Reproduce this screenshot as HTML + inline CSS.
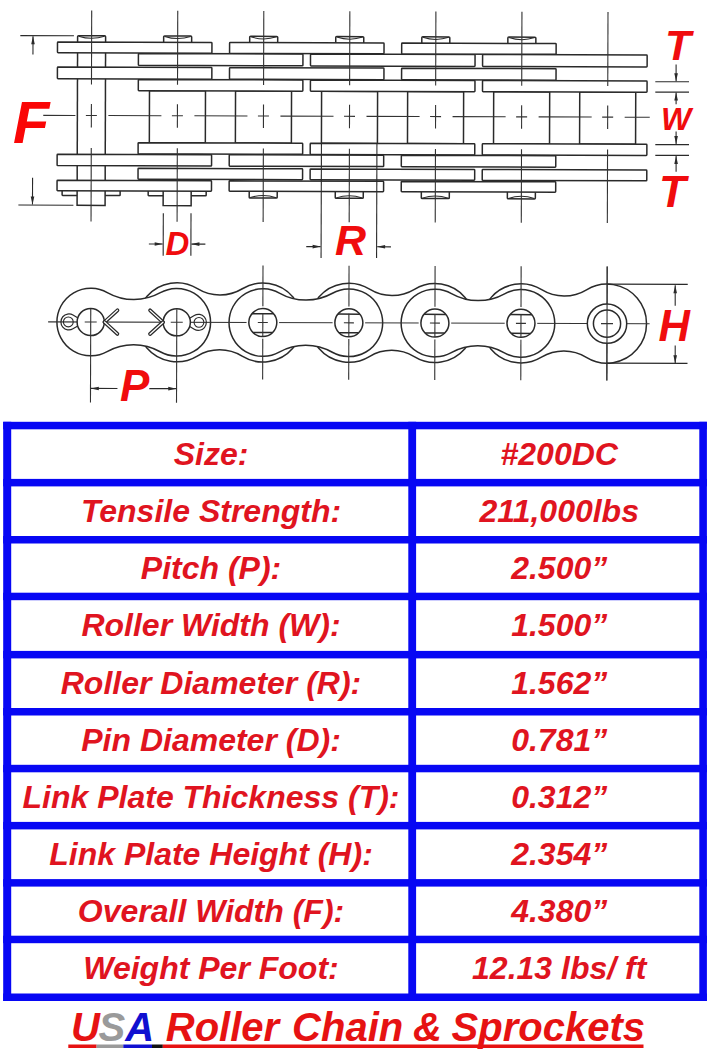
<!DOCTYPE html>
<html><head><meta charset="utf-8"><title>#200DC Roller Chain</title>
<style>
html,body{margin:0;padding:0;background:#fff;}
body{width:708px;height:1058px;overflow:hidden;position:relative;}
svg{display:block;position:absolute;left:0;top:0;}
text{font-family:"Liberation Sans",sans-serif;font-weight:bold;font-style:italic;}
</style></head><body>
<svg width="708" height="1058" viewBox="0 0 708 1058">
<g transform="rotate(0.18 91 200)">
<line x1="77.10" y1="42.00" x2="77.10" y2="195.50" stroke="#2a2a2a" stroke-width="1.5"/>
<line x1="105.10" y1="42.00" x2="105.10" y2="195.50" stroke="#2a2a2a" stroke-width="1.5"/>
<rect x="149.15" y="90.50" width="56.00" height="52.00" rx="0" fill="#fff" stroke="#2a2a2a" stroke-width="1.5"/>
<rect x="235.20" y="90.50" width="56.00" height="52.00" rx="0" fill="#fff" stroke="#2a2a2a" stroke-width="1.5"/>
<rect x="321.25" y="90.50" width="56.00" height="52.00" rx="0" fill="#fff" stroke="#2a2a2a" stroke-width="1.5"/>
<rect x="407.30" y="90.50" width="56.00" height="52.00" rx="0" fill="#fff" stroke="#2a2a2a" stroke-width="1.5"/>
<rect x="493.35" y="90.50" width="56.00" height="52.00" rx="0" fill="#fff" stroke="#2a2a2a" stroke-width="1.5"/>
<rect x="579.40" y="90.50" width="56.00" height="52.00" rx="0" fill="#fff" stroke="#2a2a2a" stroke-width="1.5"/>
<path d="M77.10 42.10 L77.10 36.6 Q77.10 35.8 78.10 35.8 L104.10 35.8 Q105.10 35.8 105.10 36.6 L105.10 42.10" fill="#fff" stroke="#2a2a2a" stroke-width="1.5"/>
<path d="M78.10 36.2 Q91.10 40.5 104.10 36.2" fill="none" stroke="#2a2a2a" stroke-width="1"/>
<path d="M163.15 42.10 L163.15 36.6 Q163.15 35.8 164.15 35.8 L190.15 35.8 Q191.15 35.8 191.15 36.6 L191.15 42.10" fill="#fff" stroke="#2a2a2a" stroke-width="1.5"/>
<path d="M164.15 36.2 Q177.15 40.5 190.15 36.2" fill="none" stroke="#2a2a2a" stroke-width="1"/>
<path d="M249.20 42.10 L249.20 36.6 Q249.20 35.8 250.20 35.8 L276.20 35.8 Q277.20 35.8 277.20 36.6 L277.20 42.10" fill="#fff" stroke="#2a2a2a" stroke-width="1.5"/>
<path d="M250.20 36.2 Q263.20 40.5 276.20 36.2" fill="none" stroke="#2a2a2a" stroke-width="1"/>
<path d="M335.25 42.10 L335.25 36.6 Q335.25 35.8 336.25 35.8 L362.25 35.8 Q363.25 35.8 363.25 36.6 L363.25 42.10" fill="#fff" stroke="#2a2a2a" stroke-width="1.5"/>
<path d="M336.25 36.2 Q349.25 40.5 362.25 36.2" fill="none" stroke="#2a2a2a" stroke-width="1"/>
<path d="M421.30 42.10 L421.30 36.6 Q421.30 35.8 422.30 35.8 L448.30 35.8 Q449.30 35.8 449.30 36.6 L449.30 42.10" fill="#fff" stroke="#2a2a2a" stroke-width="1.5"/>
<path d="M422.30 36.2 Q435.30 40.5 448.30 36.2" fill="none" stroke="#2a2a2a" stroke-width="1"/>
<path d="M507.35 42.10 L507.35 36.6 Q507.35 35.8 508.35 35.8 L534.35 35.8 Q535.35 35.8 535.35 36.6 L535.35 42.10" fill="#fff" stroke="#2a2a2a" stroke-width="1.5"/>
<path d="M508.35 36.2 Q521.35 40.5 534.35 36.2" fill="none" stroke="#2a2a2a" stroke-width="1"/>
<rect x="62.10" y="189.80" width="58.00" height="5.70" rx="0.6" fill="#fff" stroke="#2a2a2a" stroke-width="1.5"/>
<rect x="77.10" y="189.80" width="28.00" height="15.60" rx="0" fill="#fff" stroke="#2a2a2a" stroke-width="1.5"/>
<rect x="148.15" y="189.80" width="58.00" height="5.70" rx="0.6" fill="#fff" stroke="#2a2a2a" stroke-width="1.5"/>
<rect x="163.15" y="189.80" width="28.00" height="15.60" rx="0" fill="#fff" stroke="#2a2a2a" stroke-width="1.5"/>
<path d="M249.20 190.80 L249.20 196.7 Q249.20 197.5 250.20 197.5 L276.20 197.5 Q277.20 197.5 277.20 196.7 L277.20 190.80" fill="#fff" stroke="#2a2a2a" stroke-width="1.5"/>
<path d="M250.20 197.1 Q263.20 192.8 276.20 197.1" fill="none" stroke="#2a2a2a" stroke-width="1"/>
<path d="M335.25 190.80 L335.25 196.7 Q335.25 197.5 336.25 197.5 L362.25 197.5 Q363.25 197.5 363.25 196.7 L363.25 190.80" fill="#fff" stroke="#2a2a2a" stroke-width="1.5"/>
<path d="M336.25 197.1 Q349.25 192.8 362.25 197.1" fill="none" stroke="#2a2a2a" stroke-width="1"/>
<path d="M421.30 190.80 L421.30 196.7 Q421.30 197.5 422.30 197.5 L448.30 197.5 Q449.30 197.5 449.30 196.7 L449.30 190.80" fill="#fff" stroke="#2a2a2a" stroke-width="1.5"/>
<path d="M422.30 197.1 Q435.30 192.8 448.30 197.1" fill="none" stroke="#2a2a2a" stroke-width="1"/>
<path d="M507.35 190.80 L507.35 196.7 Q507.35 197.5 508.35 197.5 L534.35 197.5 Q535.35 197.5 535.35 196.7 L535.35 190.80" fill="#fff" stroke="#2a2a2a" stroke-width="1.5"/>
<path d="M508.35 197.1 Q521.35 192.8 534.35 197.1" fill="none" stroke="#2a2a2a" stroke-width="1"/>
<rect x="137.95" y="53.30" width="164.55" height="11.90" rx="0.7" fill="#fff" stroke="#2a2a2a" stroke-width="1.5"/>
<rect x="310.05" y="53.30" width="164.55" height="11.90" rx="0.7" fill="#fff" stroke="#2a2a2a" stroke-width="1.5"/>
<rect x="482.15" y="53.30" width="164.55" height="11.90" rx="0.7" fill="#fff" stroke="#2a2a2a" stroke-width="1.5"/>
<rect x="137.95" y="79.30" width="164.55" height="11.20" rx="0.7" fill="#fff" stroke="#2a2a2a" stroke-width="1.5"/>
<rect x="310.05" y="79.30" width="164.55" height="11.20" rx="0.7" fill="#fff" stroke="#2a2a2a" stroke-width="1.5"/>
<rect x="482.15" y="79.30" width="164.55" height="11.20" rx="0.7" fill="#fff" stroke="#2a2a2a" stroke-width="1.5"/>
<rect x="137.95" y="142.50" width="164.55" height="11.20" rx="0.7" fill="#fff" stroke="#2a2a2a" stroke-width="1.5"/>
<rect x="310.05" y="142.50" width="164.55" height="11.20" rx="0.7" fill="#fff" stroke="#2a2a2a" stroke-width="1.5"/>
<rect x="482.15" y="142.50" width="164.55" height="11.20" rx="0.7" fill="#fff" stroke="#2a2a2a" stroke-width="1.5"/>
<rect x="137.95" y="168.20" width="164.55" height="10.90" rx="0.7" fill="#fff" stroke="#2a2a2a" stroke-width="1.5"/>
<rect x="310.05" y="168.20" width="164.55" height="10.90" rx="0.7" fill="#fff" stroke="#2a2a2a" stroke-width="1.5"/>
<rect x="482.15" y="168.20" width="164.55" height="10.90" rx="0.7" fill="#fff" stroke="#2a2a2a" stroke-width="1.5"/>
<rect x="57.00" y="42.10" width="154.45" height="10.80" rx="0.7" fill="#fff" stroke="#2a2a2a" stroke-width="1.5"/>
<rect x="229.10" y="42.10" width="154.45" height="10.80" rx="0.7" fill="#fff" stroke="#2a2a2a" stroke-width="1.5"/>
<rect x="401.20" y="42.10" width="154.45" height="10.80" rx="0.7" fill="#fff" stroke="#2a2a2a" stroke-width="1.5"/>
<rect x="57.00" y="67.20" width="154.45" height="11.60" rx="0.7" fill="#fff" stroke="#2a2a2a" stroke-width="1.5"/>
<rect x="229.10" y="67.20" width="154.45" height="11.60" rx="0.7" fill="#fff" stroke="#2a2a2a" stroke-width="1.5"/>
<rect x="401.20" y="67.20" width="154.45" height="11.60" rx="0.7" fill="#fff" stroke="#2a2a2a" stroke-width="1.5"/>
<rect x="57.00" y="154.30" width="154.45" height="11.40" rx="0.7" fill="#fff" stroke="#2a2a2a" stroke-width="1.5"/>
<rect x="229.10" y="154.30" width="154.45" height="11.40" rx="0.7" fill="#fff" stroke="#2a2a2a" stroke-width="1.5"/>
<rect x="401.20" y="154.30" width="154.45" height="11.40" rx="0.7" fill="#fff" stroke="#2a2a2a" stroke-width="1.5"/>
<rect x="57.00" y="180.40" width="154.45" height="10.40" rx="0.7" fill="#fff" stroke="#2a2a2a" stroke-width="1.5"/>
<rect x="229.10" y="180.40" width="154.45" height="10.40" rx="0.7" fill="#fff" stroke="#2a2a2a" stroke-width="1.5"/>
<rect x="401.20" y="180.40" width="154.45" height="10.40" rx="0.7" fill="#fff" stroke="#2a2a2a" stroke-width="1.5"/>
<line x1="91.10" y1="10.50" x2="91.10" y2="84.50" stroke="#333333" stroke-width="1.1"/>
<line x1="91.10" y1="104.00" x2="91.10" y2="127.50" stroke="#333333" stroke-width="1.1"/>
<line x1="91.10" y1="148.00" x2="91.10" y2="221.50" stroke="#333333" stroke-width="1.1"/>
<line x1="177.15" y1="10.50" x2="177.15" y2="84.50" stroke="#333333" stroke-width="1.1"/>
<line x1="177.15" y1="104.00" x2="177.15" y2="127.50" stroke="#333333" stroke-width="1.1"/>
<line x1="177.15" y1="148.00" x2="177.15" y2="221.50" stroke="#333333" stroke-width="1.1"/>
<line x1="263.20" y1="10.50" x2="263.20" y2="84.50" stroke="#333333" stroke-width="1.1"/>
<line x1="263.20" y1="104.00" x2="263.20" y2="127.50" stroke="#333333" stroke-width="1.1"/>
<line x1="263.20" y1="148.00" x2="263.20" y2="221.50" stroke="#333333" stroke-width="1.1"/>
<line x1="349.25" y1="10.50" x2="349.25" y2="84.50" stroke="#333333" stroke-width="1.1"/>
<line x1="349.25" y1="104.00" x2="349.25" y2="127.50" stroke="#333333" stroke-width="1.1"/>
<line x1="349.25" y1="148.00" x2="349.25" y2="221.50" stroke="#333333" stroke-width="1.1"/>
<line x1="435.30" y1="10.50" x2="435.30" y2="84.50" stroke="#333333" stroke-width="1.1"/>
<line x1="435.30" y1="104.00" x2="435.30" y2="127.50" stroke="#333333" stroke-width="1.1"/>
<line x1="435.30" y1="148.00" x2="435.30" y2="221.50" stroke="#333333" stroke-width="1.1"/>
<line x1="521.35" y1="10.50" x2="521.35" y2="84.50" stroke="#333333" stroke-width="1.1"/>
<line x1="521.35" y1="104.00" x2="521.35" y2="127.50" stroke="#333333" stroke-width="1.1"/>
<line x1="521.35" y1="148.00" x2="521.35" y2="221.50" stroke="#333333" stroke-width="1.1"/>
<line x1="607.40" y1="10.50" x2="607.40" y2="84.50" stroke="#333333" stroke-width="1.1"/>
<line x1="607.40" y1="104.00" x2="607.40" y2="127.50" stroke="#333333" stroke-width="1.1"/>
<line x1="607.40" y1="148.00" x2="607.40" y2="221.50" stroke="#333333" stroke-width="1.1"/>
<line x1="43.00" y1="115.50" x2="75.10" y2="115.50" stroke="#333333" stroke-width="1.1"/>
<line x1="85.60" y1="115.50" x2="96.60" y2="115.50" stroke="#333333" stroke-width="1.1"/>
<line x1="108.10" y1="115.50" x2="161.15" y2="115.50" stroke="#333333" stroke-width="1.1"/>
<line x1="171.65" y1="115.50" x2="182.65" y2="115.50" stroke="#333333" stroke-width="1.1"/>
<line x1="194.15" y1="115.50" x2="247.20" y2="115.50" stroke="#333333" stroke-width="1.1"/>
<line x1="257.70" y1="115.50" x2="268.70" y2="115.50" stroke="#333333" stroke-width="1.1"/>
<line x1="280.20" y1="115.50" x2="333.25" y2="115.50" stroke="#333333" stroke-width="1.1"/>
<line x1="343.75" y1="115.50" x2="354.75" y2="115.50" stroke="#333333" stroke-width="1.1"/>
<line x1="366.25" y1="115.50" x2="419.30" y2="115.50" stroke="#333333" stroke-width="1.1"/>
<line x1="429.80" y1="115.50" x2="440.80" y2="115.50" stroke="#333333" stroke-width="1.1"/>
<line x1="452.30" y1="115.50" x2="505.35" y2="115.50" stroke="#333333" stroke-width="1.1"/>
<line x1="515.85" y1="115.50" x2="526.85" y2="115.50" stroke="#333333" stroke-width="1.1"/>
<line x1="538.35" y1="115.50" x2="591.40" y2="115.50" stroke="#333333" stroke-width="1.1"/>
<line x1="601.90" y1="115.50" x2="612.90" y2="115.50" stroke="#333333" stroke-width="1.1"/>
<line x1="624.40" y1="115.50" x2="649.50" y2="115.50" stroke="#333333" stroke-width="1.1"/>
<line x1="19.80" y1="35.80" x2="73.40" y2="35.80" stroke="#2a2a2a" stroke-width="1.1"/>
<line x1="18.40" y1="205.30" x2="73.40" y2="205.30" stroke="#2a2a2a" stroke-width="1.1"/>
<line x1="32.50" y1="54.70" x2="32.50" y2="36.50" stroke="#2a2a2a" stroke-width="1.1"/>
<path d="M32.50 36.50 L30.70 44.50 L34.30 44.50 Z" fill="#2a2a2a"/>
<line x1="32.50" y1="177.90" x2="32.50" y2="204.60" stroke="#2a2a2a" stroke-width="1.1"/>
<path d="M32.50 204.60 L30.70 196.60 L34.30 196.60 Z" fill="#2a2a2a"/>
<line x1="163.35" y1="213.00" x2="163.35" y2="255.40" stroke="#2a2a2a" stroke-width="1.1"/>
<line x1="191.05" y1="213.00" x2="191.05" y2="255.40" stroke="#2a2a2a" stroke-width="1.1"/>
<line x1="149.00" y1="243.80" x2="162.85" y2="243.80" stroke="#2a2a2a" stroke-width="1.1"/>
<path d="M162.85 243.80 L154.85 242.00 L154.85 245.60 Z" fill="#2a2a2a"/>
<line x1="205.50" y1="243.80" x2="191.55" y2="243.80" stroke="#2a2a2a" stroke-width="1.1"/>
<path d="M191.55 243.80 L199.55 242.00 L199.55 245.60 Z" fill="#2a2a2a"/>
<line x1="321.25" y1="142.50" x2="321.25" y2="257.20" stroke="#2a2a2a" stroke-width="1.1"/>
<line x1="376.75" y1="142.50" x2="376.75" y2="257.20" stroke="#2a2a2a" stroke-width="1.1"/>
<line x1="306.40" y1="245.90" x2="320.75" y2="245.90" stroke="#2a2a2a" stroke-width="1.1"/>
<path d="M320.75 245.90 L312.75 244.10 L312.75 247.70 Z" fill="#2a2a2a"/>
<line x1="391.10" y1="245.90" x2="377.25" y2="245.90" stroke="#2a2a2a" stroke-width="1.1"/>
<path d="M377.25 245.90 L385.25 244.10 L385.25 247.70 Z" fill="#2a2a2a"/>
</g>
<line x1="655.30" y1="81.70" x2="689.00" y2="81.70" stroke="#2a2a2a" stroke-width="1.1"/>
<line x1="655.30" y1="92.10" x2="689.00" y2="92.10" stroke="#2a2a2a" stroke-width="1.1"/>
<line x1="655.30" y1="144.60" x2="689.00" y2="144.60" stroke="#2a2a2a" stroke-width="1.1"/>
<line x1="655.30" y1="155.40" x2="689.00" y2="155.40" stroke="#2a2a2a" stroke-width="1.1"/>
<line x1="676.10" y1="64.60" x2="676.10" y2="81.20" stroke="#2a2a2a" stroke-width="1.1"/>
<path d="M676.10 81.20 L674.30 73.20 L677.90 73.20 Z" fill="#2a2a2a"/>
<line x1="676.10" y1="104.30" x2="676.10" y2="92.60" stroke="#2a2a2a" stroke-width="1.1"/>
<path d="M676.10 92.60 L674.30 100.60 L677.90 100.60 Z" fill="#2a2a2a"/>
<line x1="676.10" y1="131.60" x2="676.10" y2="144.10" stroke="#2a2a2a" stroke-width="1.1"/>
<path d="M676.10 144.10 L674.30 136.10 L677.90 136.10 Z" fill="#2a2a2a"/>
<line x1="676.10" y1="171.80" x2="676.10" y2="155.90" stroke="#2a2a2a" stroke-width="1.1"/>
<path d="M676.10 155.90 L674.30 163.90 L677.90 163.90 Z" fill="#2a2a2a"/>
<g transform="rotate(0.18 91 200)">
<path d="M197.74 288.29 A43.04 43.04 0 0 0 242.61 288.29 A39.5 39.5 0 1 1 242.61 355.71 A43.04 43.04 0 0 0 197.74 355.71 A39.5 39.5 0 1 1 197.74 288.29 Z" fill="#fff" stroke="#2a2a2a" stroke-width="1.5"/>
<path d="M369.84 288.29 A43.04 43.04 0 0 0 414.71 288.29 A39.5 39.5 0 1 1 414.71 355.71 A43.04 43.04 0 0 0 369.84 355.71 A39.5 39.5 0 1 1 369.84 288.29 Z" fill="#fff" stroke="#2a2a2a" stroke-width="1.5"/>
<path d="M541.94 288.29 A43.04 43.04 0 0 0 586.81 288.29 A39.5 39.5 0 1 1 586.81 355.71 A43.04 43.04 0 0 0 541.94 355.71 A39.5 39.5 0 1 1 541.94 288.29 Z" fill="#fff" stroke="#2a2a2a" stroke-width="1.5"/>
<path d="M107.58 292.49 A54.44 54.44 0 0 0 160.67 292.49 A33.8 33.8 0 1 1 160.67 351.51 A54.44 54.44 0 0 0 107.58 351.51 A33.8 33.8 0 1 1 107.58 292.49 Z" fill="#fff" stroke="#2a2a2a" stroke-width="1.5"/>
<path d="M279.68 292.49 A54.44 54.44 0 0 0 332.77 292.49 A33.8 33.8 0 1 1 332.77 351.51 A54.44 54.44 0 0 0 279.68 351.51 A33.8 33.8 0 1 1 279.68 292.49 Z" fill="#fff" stroke="#2a2a2a" stroke-width="1.5"/>
<path d="M451.78 292.49 A54.44 54.44 0 0 0 504.87 292.49 A33.8 33.8 0 1 1 504.87 351.51 A54.44 54.44 0 0 0 451.78 351.51 A33.8 33.8 0 1 1 451.78 292.49 Z" fill="#fff" stroke="#2a2a2a" stroke-width="1.5"/>
<line x1="48.50" y1="322.00" x2="650.00" y2="322.00" stroke="#333333" stroke-width="1.1"/>
<line x1="263.20" y1="265.00" x2="263.20" y2="379.00" stroke="#333333" stroke-width="1.1"/>
<line x1="349.25" y1="265.00" x2="349.25" y2="379.00" stroke="#333333" stroke-width="1.1"/>
<line x1="435.30" y1="265.00" x2="435.30" y2="379.00" stroke="#333333" stroke-width="1.1"/>
<line x1="521.35" y1="265.00" x2="521.35" y2="379.00" stroke="#333333" stroke-width="1.1"/>
<line x1="607.40" y1="265.00" x2="607.40" y2="379.00" stroke="#333333" stroke-width="1.1"/>
<line x1="91.10" y1="309.00" x2="91.10" y2="402.40" stroke="#333333" stroke-width="1.1"/>
<line x1="177.15" y1="309.00" x2="177.15" y2="402.40" stroke="#333333" stroke-width="1.1"/>
<path d="M85.10 322.00 L73.35 315.10 A8.0 8.0 0 1 0 73.35 328.90 Z" fill="none" stroke="#2a2a2a" stroke-width="1.2"/>
<circle cx="68.70" cy="322.0" r="4.9" fill="none" stroke="#2a2a2a" stroke-width="1.1"/>
<path d="M183.15 322.00 L194.65 315.13 A8.0 8.0 0 1 1 194.65 328.87 Z" fill="none" stroke="#2a2a2a" stroke-width="1.2"/>
<circle cx="199.35" cy="322.0" r="4.9" fill="none" stroke="#2a2a2a" stroke-width="1.1"/>
<circle cx="91.10" cy="322.0" r="13.6" fill="#fff" stroke="#2a2a2a" stroke-width="1.5"/>
<line x1="91.10" y1="309.00" x2="91.10" y2="336.00" stroke="#333333" stroke-width="1.1"/>
<line x1="85.10" y1="322.00" x2="97.10" y2="322.00" stroke="#333333" stroke-width="1.1"/>
<circle cx="177.15" cy="322.0" r="13.6" fill="#fff" stroke="#2a2a2a" stroke-width="1.5"/>
<line x1="177.15" y1="309.00" x2="177.15" y2="336.00" stroke="#333333" stroke-width="1.1"/>
<line x1="171.15" y1="322.00" x2="183.15" y2="322.00" stroke="#333333" stroke-width="1.1"/>
<line x1="104.90" y1="322.0" x2="117.80" y2="310.20" stroke="#2a2a2a" stroke-width="3.8" stroke-linecap="round"/>
<line x1="104.90" y1="322.0" x2="117.80" y2="310.20" stroke="#fff" stroke-width="1.3" stroke-linecap="round"/>
<line x1="104.90" y1="322.0" x2="117.80" y2="333.80" stroke="#2a2a2a" stroke-width="3.8" stroke-linecap="round"/>
<line x1="104.90" y1="322.0" x2="117.80" y2="333.80" stroke="#fff" stroke-width="1.3" stroke-linecap="round"/>
<line x1="163.35" y1="322.0" x2="150.45" y2="310.20" stroke="#2a2a2a" stroke-width="3.8" stroke-linecap="round"/>
<line x1="163.35" y1="322.0" x2="150.45" y2="310.20" stroke="#fff" stroke-width="1.3" stroke-linecap="round"/>
<line x1="163.35" y1="322.0" x2="150.45" y2="333.80" stroke="#2a2a2a" stroke-width="3.8" stroke-linecap="round"/>
<line x1="163.35" y1="322.0" x2="150.45" y2="333.80" stroke="#fff" stroke-width="1.3" stroke-linecap="round"/>
<circle cx="263.20" cy="322.0" r="16.3" fill="#fff"/>
<circle cx="263.20" cy="322.0" r="14" fill="#fff" stroke="#2a2a2a" stroke-width="1.5"/>
<line x1="252.23" y1="313.30" x2="274.17" y2="313.30" stroke="#2a2a2a" stroke-width="1.5"/>
<line x1="253.40" y1="332.00" x2="273.00" y2="332.00" stroke="#2a2a2a" stroke-width="1.5"/>
<line x1="263.20" y1="313.00" x2="263.20" y2="336.00" stroke="#333333" stroke-width="1.1"/>
<line x1="258.20" y1="322.00" x2="268.20" y2="322.00" stroke="#333333" stroke-width="1.1"/>
<circle cx="349.25" cy="322.0" r="16.3" fill="#fff"/>
<circle cx="349.25" cy="322.0" r="14" fill="#fff" stroke="#2a2a2a" stroke-width="1.5"/>
<line x1="338.28" y1="313.30" x2="360.22" y2="313.30" stroke="#2a2a2a" stroke-width="1.5"/>
<line x1="339.45" y1="332.00" x2="359.05" y2="332.00" stroke="#2a2a2a" stroke-width="1.5"/>
<line x1="349.25" y1="313.00" x2="349.25" y2="336.00" stroke="#333333" stroke-width="1.1"/>
<line x1="344.25" y1="322.00" x2="354.25" y2="322.00" stroke="#333333" stroke-width="1.1"/>
<circle cx="435.30" cy="322.0" r="16.3" fill="#fff"/>
<circle cx="435.30" cy="322.0" r="14" fill="#fff" stroke="#2a2a2a" stroke-width="1.5"/>
<line x1="424.33" y1="313.30" x2="446.27" y2="313.30" stroke="#2a2a2a" stroke-width="1.5"/>
<line x1="425.50" y1="332.00" x2="445.10" y2="332.00" stroke="#2a2a2a" stroke-width="1.5"/>
<line x1="435.30" y1="313.00" x2="435.30" y2="336.00" stroke="#333333" stroke-width="1.1"/>
<line x1="430.30" y1="322.00" x2="440.30" y2="322.00" stroke="#333333" stroke-width="1.1"/>
<circle cx="521.35" cy="322.0" r="16.3" fill="#fff"/>
<circle cx="521.35" cy="322.0" r="14" fill="#fff" stroke="#2a2a2a" stroke-width="1.5"/>
<line x1="510.38" y1="313.30" x2="532.32" y2="313.30" stroke="#2a2a2a" stroke-width="1.5"/>
<line x1="511.55" y1="332.00" x2="531.15" y2="332.00" stroke="#2a2a2a" stroke-width="1.5"/>
<line x1="521.35" y1="313.00" x2="521.35" y2="336.00" stroke="#333333" stroke-width="1.1"/>
<line x1="516.35" y1="322.00" x2="526.35" y2="322.00" stroke="#333333" stroke-width="1.1"/>
<circle cx="607.40" cy="322.0" r="19.7" fill="#fff" stroke="#2a2a2a" stroke-width="1.5"/>
<circle cx="607.40" cy="322.0" r="13.6" fill="#fff" stroke="#2a2a2a" stroke-width="1.5"/>
<line x1="601.40" y1="322.00" x2="613.40" y2="322.00" stroke="#333333" stroke-width="1.1"/>
<line x1="607.40" y1="265.00" x2="607.40" y2="379.00" stroke="#333333" stroke-width="1.1"/>
<line x1="607.40" y1="282.50" x2="688.00" y2="282.50" stroke="#2a2a2a" stroke-width="1.1"/>
<line x1="607.40" y1="361.50" x2="688.00" y2="361.50" stroke="#2a2a2a" stroke-width="1.1"/>
<line x1="118.00" y1="388.40" x2="91.40" y2="388.40" stroke="#2a2a2a" stroke-width="1.1"/>
<path d="M91.40 388.40 L99.40 386.60 L99.40 390.20 Z" fill="#2a2a2a"/>
<line x1="149.90" y1="388.40" x2="176.85" y2="388.40" stroke="#2a2a2a" stroke-width="1.1"/>
<path d="M176.85 388.40 L168.85 386.60 L168.85 390.20 Z" fill="#2a2a2a"/>
</g>
<line x1="675.20" y1="305.80" x2="675.20" y2="285.30" stroke="#2a2a2a" stroke-width="1.1"/>
<path d="M675.20 285.30 L673.40 293.30 L677.00 293.30 Z" fill="#2a2a2a"/>
<line x1="675.20" y1="345.50" x2="675.20" y2="363.30" stroke="#2a2a2a" stroke-width="1.1"/>
<path d="M675.20 363.30 L673.40 355.30 L677.00 355.30 Z" fill="#2a2a2a"/>
<text x="13" y="143.1" font-size="59.5" fill="#fa0606">F</text>
<text x="165.5" y="255.4" font-size="33" fill="#f00c0e">D</text>
<text x="335" y="255.1" font-size="43" fill="#f00c0e">R</text>
<text x="665" y="60.3" font-size="42.5" fill="#f00c0e">T</text>
<text x="661" y="129.7" font-size="32" fill="#f00c0e">W</text>
<text x="659" y="206.8" font-size="44" fill="#f00c0e">T</text>
<text x="120" y="401.3" font-size="44" fill="#f00c0e">P</text>
<text x="658.5" y="340.9" font-size="43.5" fill="#f00c0e">H</text>
<rect x="3.2" y="421.80" width="703.70" height="7.5" fill="#0707f4"/>
<rect x="3.2" y="478.90" width="703.70" height="7.5" fill="#0707f4"/>
<rect x="3.2" y="536.00" width="703.70" height="7.5" fill="#0707f4"/>
<rect x="3.2" y="592.70" width="703.70" height="7.5" fill="#0707f4"/>
<rect x="3.2" y="650.90" width="703.70" height="7.5" fill="#0707f4"/>
<rect x="3.2" y="708.00" width="703.70" height="7.5" fill="#0707f4"/>
<rect x="3.2" y="764.80" width="703.70" height="7.5" fill="#0707f4"/>
<rect x="3.2" y="821.90" width="703.70" height="7.5" fill="#0707f4"/>
<rect x="3.2" y="879.10" width="703.70" height="7.5" fill="#0707f4"/>
<rect x="3.2" y="935.70" width="703.70" height="7.5" fill="#0707f4"/>
<rect x="3.2" y="993.50" width="703.70" height="7.5" fill="#0707f4"/>
<rect x="3.2" y="421.8" width="8.0" height="579.20" fill="#0707f4"/>
<rect x="408.3" y="421.8" width="7.8" height="579.20" fill="#0707f4"/>
<rect x="699.3" y="421.8" width="7.6" height="579.20" fill="#0707f4"/>
<text x="211" y="464.90" font-size="32" fill="#e01420" text-anchor="middle">Size:</text>
<text x="559.2" y="464.90" font-size="32" fill="#e01420" text-anchor="middle">#200DC</text>
<text x="211" y="522.00" font-size="32" fill="#e01420" text-anchor="middle">Tensile Strength:</text>
<text x="559.2" y="522.00" font-size="32" fill="#e01420" text-anchor="middle">211,000lbs</text>
<text x="211" y="578.90" font-size="32" fill="#e01420" text-anchor="middle">Pitch (P):</text>
<text x="559.2" y="578.90" font-size="32" fill="#e01420" text-anchor="middle">2.500”</text>
<text x="211" y="636.35" font-size="32" fill="#e01420" text-anchor="middle">Roller Width (W):</text>
<text x="559.2" y="636.35" font-size="32" fill="#e01420" text-anchor="middle">1.500”</text>
<text x="211" y="694.00" font-size="32" fill="#e01420" text-anchor="middle">Roller Diameter (R):</text>
<text x="559.2" y="694.00" font-size="32" fill="#e01420" text-anchor="middle">1.562”</text>
<text x="211" y="750.95" font-size="32" fill="#e01420" text-anchor="middle">Pin Diameter (D):</text>
<text x="559.2" y="750.95" font-size="32" fill="#e01420" text-anchor="middle">0.781”</text>
<text x="211" y="807.90" font-size="32" fill="#e01420" text-anchor="middle">Link Plate Thickness (T):</text>
<text x="559.2" y="807.90" font-size="32" fill="#e01420" text-anchor="middle">0.312”</text>
<text x="211" y="865.05" font-size="32" fill="#e01420" text-anchor="middle">Link Plate Height (H):</text>
<text x="559.2" y="865.05" font-size="32" fill="#e01420" text-anchor="middle">2.354”</text>
<text x="211" y="921.95" font-size="32" fill="#e01420" text-anchor="middle">Overall Width (F):</text>
<text x="559.2" y="921.95" font-size="32" fill="#e01420" text-anchor="middle">4.380”</text>
<text x="211" y="979.15" font-size="32" fill="#e01420" text-anchor="middle">Weight Per Foot:</text>
<text x="559.2" y="979.15" font-size="32" fill="#e01420" text-anchor="middle">12.13 lbs/ ft</text>
<text x="70.9" y="1041.2" font-size="40"><tspan fill="#e61212">U</tspan><tspan fill="#9a9a9a" dx="-1.2">S</tspan><tspan fill="#1010d0">A</tspan><tspan fill="#e61212" dx="2"> Roller</tspan><tspan fill="#e61212" dx="1.8"> Chain</tspan><tspan fill="#e61212" dx="-1.3"> &amp;</tspan><tspan fill="#e61212" dx="-1.4"> Sprockets</tspan></text>
<rect x="68.3" y="1044.5" width="28.30" height="3.5" fill="#e61212"/>
<rect x="96.6" y="1044.5" width="26.70" height="3.5" fill="#9a9a9a"/>
<rect x="123.3" y="1044.5" width="28.70" height="3.5" fill="#1010d0"/>
<rect x="152" y="1044.5" width="10.80" height="3.5" fill="#111"/>
<rect x="162.8" y="1044.5" width="480.70" height="3.5" fill="#e61212"/>
</svg>
</body></html>
